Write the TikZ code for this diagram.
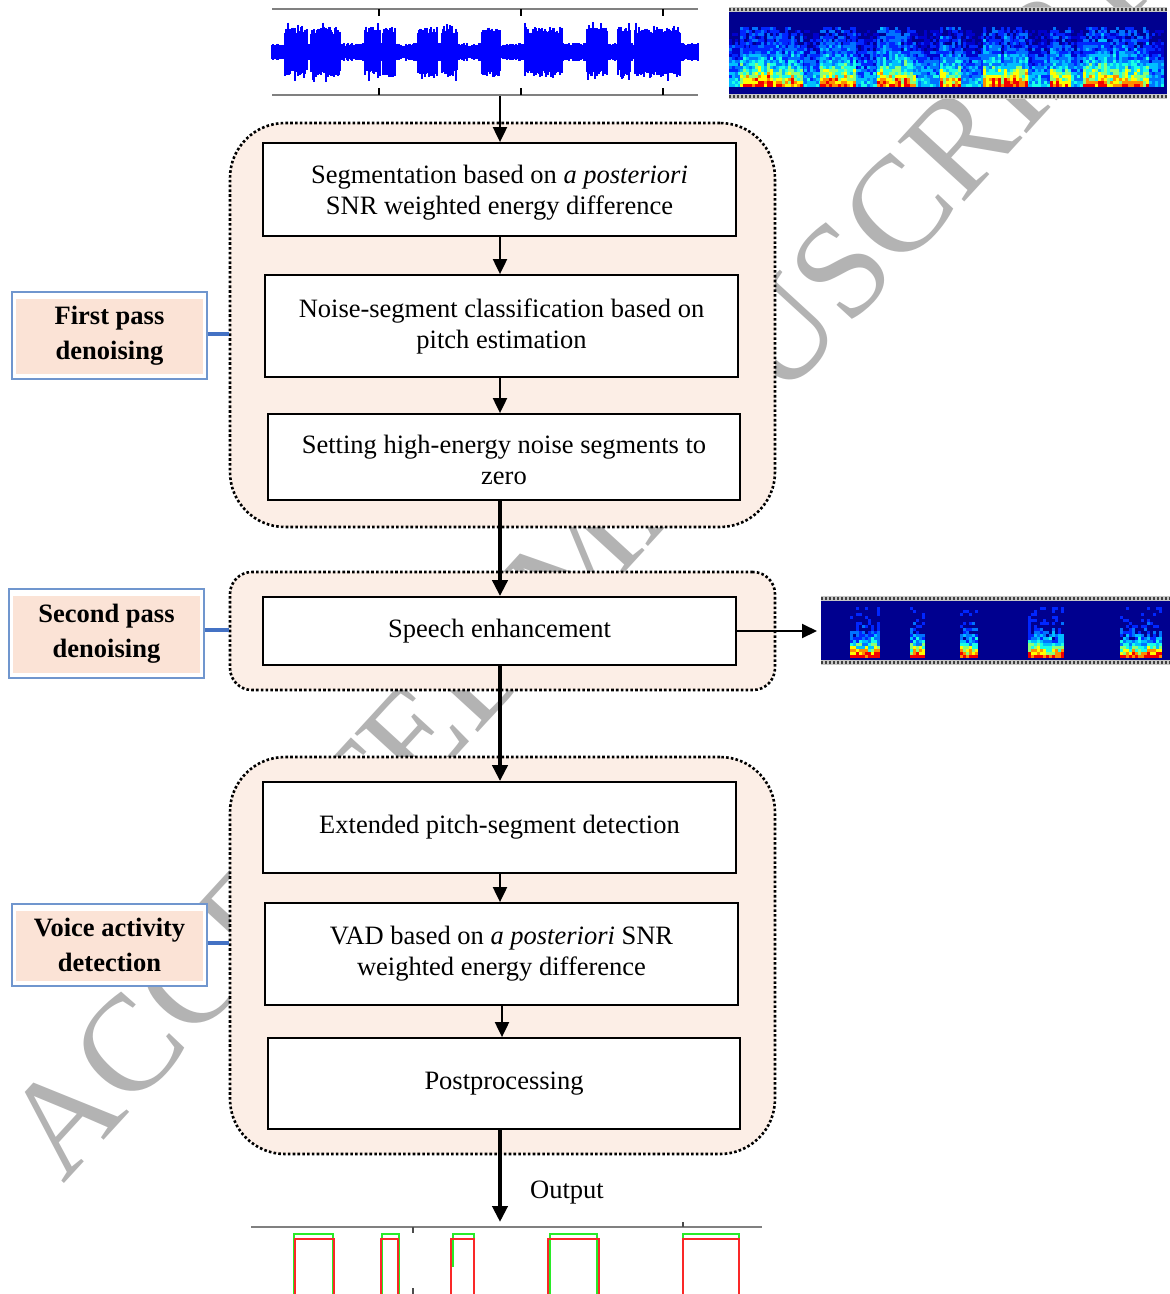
\documentclass[tikz,border=0pt]{standalone}
\usepackage{fontspec}
\setmainfont{Liberation Serif}
\usetikzlibrary{arrows.meta,calc}
\definecolor{jetbg}{rgb}{0,0,0.56}
\definecolor{jet1}{rgb}{0,0,0.8}
\definecolor{jet2}{rgb}{0,0.15,1}
\definecolor{jet3}{rgb}{0,0.45,1}
\definecolor{jet4}{rgb}{0,0.75,1}
\definecolor{jet5}{rgb}{0.1,1,0.9}
\definecolor{jet6}{rgb}{0.55,1,0.45}
\definecolor{jet7}{rgb}{1,1,0}
\definecolor{jet8}{rgb}{1,0.55,0}
\definecolor{jet9}{rgb}{0.95,0,0}
\definecolor{grpfill}{RGB}{252,238,230}
\definecolor{lblfill}{RGB}{251,227,214}
\definecolor{lblborder}{RGB}{112,150,206}
\definecolor{connblue}{RGB}{68,114,196}
\definecolor{wmgray}{RGB}{179,179,179}
\newcommand\fbody{\fontsize{26.5}{31}\selectfont}
\newcommand\flbl{\fontsize{26.5}{35}\selectfont\bfseries}
\newcommand\tstrut{\rule{0pt}{25pt}}
\begin{document}
\begin{tikzpicture}[x=1pt,y=-1pt,
  procbox/.style={draw=black, line width=1.8pt, fill=white, align=center, inner sep=0pt, font=\fbody, minimum width=473pt},
  grp/.style={draw=black, line width=2.6pt, dash pattern=on 2.6pt off 2.2pt, fill=grpfill, inner sep=0pt, minimum width=545pt},
  lbl/.style={draw=lblborder, line width=1.3pt, fill=white, align=center, inner sep=0pt, minimum width=195pt, font=\flbl,
    path picture={\fill[lblfill] ([xshift=4pt,yshift=-7pt]path picture bounding box.north west) rectangle ([xshift=-4pt,yshift=5pt]path picture bounding box.south east);}},
  thinarr/.style={-{Triangle[width=14pt,length=15pt]}, line width=2pt},
  thickarr/.style={-{Triangle[width=15pt,length=16pt]}, line width=4.5pt},
  bconn/.style={draw=connblue, line width=4pt},
  wave/.style={draw=blue, line width=1.1pt},
  strip/.style={draw=black!75, line width=3.6pt, dash pattern=on 2pt off 2pt},
  grn/.style={draw={rgb,255:red,40;green,235;blue,40}, line width=1.5pt},
  rd/.style={draw={rgb,255:red,250;green,40;blue,40}, line width=1.5pt}
]
\useasboundingbox (0,0) rectangle (1170,1294);
\pgfmathsetseed{4242}
% watermark
\node[rotate=47.5, text=wmgray, font=\fontsize{137}{137}\selectfont] (wmark) at (580,555) {ACCEPTED MANUSCRIPT};

% waveform
\draw[gray, line width=2pt] (272,9) -- (698,9);
\draw[gray, line width=2pt] (272,95) -- (698,95);
\foreach \x in {379,521,663}{
  \draw[black, line width=1.5pt] (\x,9) -- (\x,16);
  \draw[black, line width=1.5pt] (\x,88) -- (\x,95);
}
\foreach \x in {272,273,...,698}{
  \pgfmathsetmacro\am{6+3*rnd}
  \draw[wave] (\x,{52-\am}) -- (\x,{52+\am});
}
\foreach \sa/\sb in {285/307,311/340,365/380,383/395,418/437,442/457,482/500,525/562,587/607,618/630,635/680}{
  \foreach \x in {\sa,...,\sb}{
    \pgfmathsetmacro\am{18+7*rnd+5*(rnd>0.9)}
    \pgfmathsetmacro\bm{18+7*rnd+5*(rnd>0.9)}
    \draw[wave] (\x,{52-\am}) -- (\x,{52+\bm});
  }
}
\coordinate (wavbot) at (500,96);

% spectrogram 1
\fill[jetbg] (729,12) rectangle (1167,94);
\fill[gray!45] (729,7) rectangle (1167,12);
\fill[gray!45] (729,94) rectangle (1167,99);
\draw[strip] (729,9.5) -- (1167,9.5);
\draw[strip] (729,96.5) -- (1167,96.5);
\foreach \x in {729,732,...,1163}{
  \foreach \y in {30,33,...,84}{
    \pgfmathtruncatemacro\k{max(0,min(9,floor(10*(0.05+0.42*(\y-30)/54+0.28*(rnd-0.5)))))}
    \ifnum\k>0 \fill[jet\k] (\x,\y) rectangle ++(3.2,3.2);\fi
  }
}
\foreach \sa/\sb in {740/800,820/853,877/913,940/960,983/1027,1050/1070,1083/1147}{
  \pgfmathtruncatemacro\sc{\sa+3}
  \foreach \x in {\sa,\sc,...,\sb}{
    \pgfmathsetmacro\cf{0.8+0.25*rnd}
    \foreach \y in {27,30,...,84}{
      \pgfmathtruncatemacro\k{max(0,min(9,floor(10*\cf*(0.25+0.72*((\y-27)/57)^2.2+0.3*(rnd-0.5)))))}
      \ifnum\k>1 \fill[jet\k] (\x,\y) rectangle ++(3.2,3.2);\fi
    }
  }
}

% spectrogram 2
\fill[jetbg] (821,601) rectangle (1170,660);
\fill[gray!45] (821,596) rectangle (1170,601);
\fill[gray!45] (821,660) rectangle (1170,665);
\draw[strip] (821,598.5) -- (1170,598.5);
\draw[strip] (821,662.5) -- (1170,662.5);
\foreach \sa/\sb in {850/878,910/922,960/975,1028/1062,1120/1160}{
  \pgfmathtruncatemacro\sc{\sa+3}
  \foreach \x in {\sa,\sc,...,\sb}{
    \foreach \y in {607,610,...,655}{
      \pgfmathtruncatemacro\k{max(0,min(9,floor(10*(0.1+0.9*((\y-607)/48)^2.8+0.36*(rnd-0.5)))))}
      \ifnum\k>1 \fill[jet\k] (\x,\y) rectangle ++(3.2,3.2);\fi
    }
  }
}
\coordinate (spec2) at (817,631);

% groups
\node[grp, rounded corners=55pt, minimum height=404pt] (g1) at (502.5,325) {};
\node[grp, rounded corners=22pt, minimum height=118pt] (g2) at (502.5,631) {};
\node[grp, rounded corners=55pt, minimum height=397pt] (g3) at (502.5,955.5) {};

% boxes
\node[procbox, minimum height=93pt] (b1) at (499.5,189.5) {\tstrut Segmentation based on \textit{a posteriori}\\SNR weighted energy difference};
\node[procbox, minimum height=102pt] (b2) at (501.5,326) {Noise-segment classification based on\\pitch estimation};
\node[procbox, minimum width=472pt, minimum height=86pt] (b3) at (504,457) {\tstrut Setting high-energy noise segments to\\zero};
\node[procbox, minimum height=68pt] (se) at (499.5,631) {Speech enhancement};
\node[procbox, minimum height=91pt] (b4) at (499.5,827.5) {Extended pitch-segment detection};
\node[procbox, minimum height=102pt] (b5) at (501.5,954) {VAD based on \textit{a posteriori} SNR\\weighted energy difference};
\node[procbox, minimum width=472pt, minimum height=91pt] (b6) at (504,1083.5) {Postprocessing};

% labels
\node[lbl, minimum height=87pt] (l1) at (109.5,335.5) {First pass\\denoising};
\node[lbl, minimum height=89pt] (l2) at (106.5,633.5) {Second pass\\denoising};
\node[lbl, minimum height=82pt] (l3) at (109.5,945) {Voice activity\\detection};
\draw[bconn] ([yshift=2pt]l1.east) -- ([yshift=2pt]l1.east -| g1.west);
\draw[bconn] ([yshift=4pt]l2.east) -- ([yshift=4pt]l2.east -| g2.west);
\draw[bconn] ([yshift=2pt]l3.east) -- ([yshift=2pt]l3.east -| g3.west);

% arrows
\draw[thinarr] (wavbot) -- (wavbot |- b1.north);
\draw[thinarr] (b1.south -| wavbot) -- (wavbot |- b2.north);
\draw[thinarr] (b2.south -| wavbot) -- (wavbot |- b3.north);
\draw[thickarr] (b3.south -| wavbot) -- (wavbot |- se.north);
\draw[thinarr] (se.east) -- (spec2);
\draw[thickarr] (se.south -| wavbot) -- (wavbot |- b4.north);
\draw[thinarr] (b4.south -| wavbot) -- (wavbot |- b5.north);
\draw[thinarr] ([xshift=2pt]b5.south -| wavbot) -- ([xshift=2pt]wavbot |- b6.north);
\coordinate (outtip) at (500,1222);
\draw[thickarr] (b6.south -| outtip) -- (outtip);
\node[font=\fbody] (outlbl) at (567,1193) {Output};

% output plot
\draw[gray, line width=1.5pt] (251,1227) -- (762,1227);
\draw[black!70, line width=1.5pt] (413,1227) -- (413,1233);
\draw[black!70, line width=1.5pt] (413,1288) -- (413,1294);
\draw[black!70, line width=1.5pt] (683,1222) -- (683,1227);
\draw[grn] (294,1294) |- (333,1234) -- (333,1294);
\draw[grn] (382,1294) |- (399,1234) -- (399,1294);
\draw[grn] (453,1267) |- (474,1234) -- (474,1294);
\draw[grn] (550,1294) |- (597,1234) -- (597,1294);
\draw[grn] (683,1294) |- (739,1234) -- (739,1294);
\draw[rd] (295,1294) |- (334,1239) -- (334,1294);
\draw[rd] (381,1294) |- (398,1239) -- (398,1294);
\draw[rd] (451,1294) |- (474,1239) -- (474,1294);
\draw[rd] (548,1294) |- (599,1239) -- (599,1294);
\draw[rd] (683,1294) |- (739,1239) -- (739,1294);
\end{tikzpicture}
\end{document}
